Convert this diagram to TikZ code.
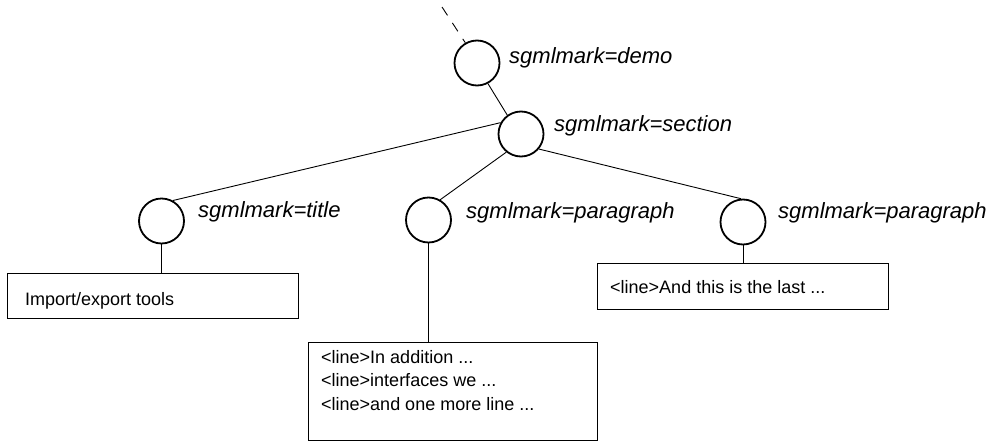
\documentclass[tikz,border=0pt]{standalone}
\usepackage{fontspec}
\setmainfont{Liberation Sans}
\begin{document}
\begin{tikzpicture}[x=1pt,y=-1pt,
  elem/.style={circle,draw,line width=1.8pt,minimum size=45pt,inner sep=0pt},
  marklabel/.style={anchor=base west,inner sep=0pt,font=\fontsize{22}{26}\selectfont\itshape},
  content/.style={draw,line width=1.1pt,inner sep=0pt,anchor=north west},
  txt/.style={anchor=base west,inner sep=0pt,align=left,font=\fontsize{18}{23.3}\selectfont},
  link/.style={line width=0.9pt}]
\useasboundingbox (0,0) rectangle (992,447);

% element nodes of the tree
\node[elem] (demo)    at (477,63)    {};
\node[elem] (section) at (521,134)   {};
\node[elem] (title)   at (161.5,221) {};
\node[elem] (para1)   at (428.5,220) {};
\node[elem] (para2)   at (743,222)   {};

% sgmlmark labels
\node[marklabel] (ldemo)    at (509,63)  {sgmlmark=demo};
\node[marklabel] (lsection) at (554,131) {sgmlmark=section};
\node[marklabel] (ltitle)   at (198,217) {sgmlmark=title};
\node[marklabel] (lpara1)   at (466,218) {sgmlmark=paragraph};
\node[marklabel] (lpara2)   at (778,218) {sgmlmark=paragraph};

% content boxes
\node[content,minimum width=291pt,minimum height=45pt] (box1) at (7,273)   {};
\node[content,minimum width=289pt,minimum height=98pt] (box2) at (308,342) {};
\node[content,minimum width=291pt,minimum height=46pt] (box3) at (597,263) {};

% box texts (the base of a multi-line node is its last line)
\node[txt] (t1) at (25,305)    {Import/export tools};
\node[txt] (t2) at (321,410)   {<line>In addition ...\\<line>interfaces we ...\\<line>and one more line ...};
\node[txt] (t3) at (610,293.3) {<line>And this is the last ...};

% connectors
\coordinate (up) at (442,7);
\draw[link,dash pattern=on 10pt off 9pt] (up) -- (demo.120);
\draw[link] (demo.-62) -- (section.126);
\draw[link] (section.151) -- (title.61);
\draw[link] (section.231) -- (para1.60);
\draw[link] (section.-40) -- (para2.95);
\draw[link] (title.south) -- (title.south |- box1.north);
\draw[link] (para1.south) -- (para1.south |- box2.north);
\draw[link] (para2.south) -- (para2.south |- box3.north);
\end{tikzpicture}
\end{document}
